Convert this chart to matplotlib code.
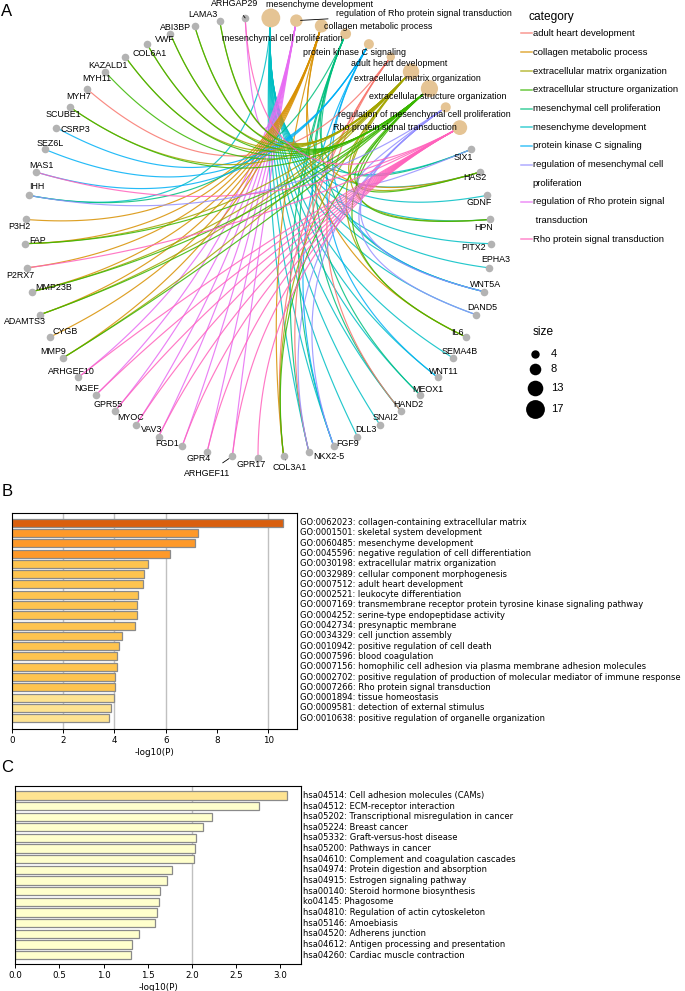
import numpy as np
import matplotlib

matplotlib.use("Agg")
import matplotlib.pyplot as plt
from matplotlib.lines import Line2D
from matplotlib.transforms import blended_transform_factory

W, H, DPI = 685, 991, 100
ARIAL = ["Liberation Sans", "DejaVu Sans"]

# ---------------- panel A: gene-concept network ----------------
CATEGORIES = [
    "mesenchyme development",
    "regulation of Rho protein signal transduction",
    "collagen metabolic process",
    "mesenchymal cell proliferation",
    "protein kinase C signaling",
    "adult heart development",
    "extracellular matrix organization",
    "extracellular structure organization",
    "regulation of mesenchymal cell proliferation",
    "Rho protein signal transduction",
]
GENES = [
    "SIX1", "HAS2", "GDNF", "HPN", "PITX2", "EPHA3", "WNT5A", "DAND5", "IL6",
    "SEMA4B", "WNT11", "MEOX1", "HAND2", "SNAI2", "DLL3", "FGF9", "NKX2-5",
    "COL3A1", "GPR17", "ARHGEF11", "GPR4", "FGD1", "VAV3", "MYOC", "GPR55",
    "NGEF", "ARHGEF10", "MMP9", "CYGB", "ADAMTS3", "MMP23B", "P2RX7", "FAP",
    "P3H2", "IHH", "MAS1", "SEZ6L", "CSRP3", "SCUBE1", "MYH7", "MYH11",
    "KAZALD1", "COL6A1", "VWF", "ABI3BP", "LAMA3", "ARHGAP29",
]

mesenchyme_development = ["SIX1", "HAS2", "GDNF", "HPN", "PITX2", "EPHA3", "WNT5A", "DAND5",
                          "SEMA4B", "WNT11", "MEOX1", "HAND2", "SNAI2", "DLL3", "FGF9",
                          "NKX2-5", "IHH"]
reg_rho_signal = ["ARHGAP29", "ARHGEF10", "NGEF", "GPR55", "MYOC", "VAV3", "FGD1", "GPR4",
                  "ARHGEF11"]
collagen_metabolic = ["P3H2", "FAP", "P2RX7", "MMP23B", "ADAMTS3", "CYGB", "MMP9", "COL3A1",
                      "IL6", "HAS2"]
mesenchymal_prolif = ["IHH", "SIX1", "HAND2", "NKX2-5", "FGF9", "WNT5A", "MEOX1"]
pkc_signaling = ["MAS1", "SEZ6L", "CSRP3", "WNT5A", "WNT11", "FGF9"]
adult_heart = ["MYH7", "COL3A1", "HAND2", "NKX2-5"]
ecm_organization = ["LAMA3", "ABI3BP", "VWF", "COL6A1", "KAZALD1", "SCUBE1", "FAP", "MMP23B",
                    "ADAMTS3", "MMP9", "COL3A1", "IL6", "HPN", "HAS2"]
ecs_organization = ecm_organization + ["MYH11"]
reg_mesenchymal_prolif = ["IHH", "SIX1", "FGF9", "WNT5A", "NKX2-5", "DAND5"]
rho_signal = ["ARHGAP29", "ARHGEF10", "NGEF", "GPR55", "MYOC", "VAV3", "FGD1", "GPR4",
              "ARHGEF11", "GPR17", "P2RX7", "MAS1"]

CATEGORY_GENES = {
    "mesenchyme development": mesenchyme_development,
    "regulation of Rho protein signal transduction": reg_rho_signal,
    "collagen metabolic process": collagen_metabolic,
    "mesenchymal cell proliferation": mesenchymal_prolif,
    "protein kinase C signaling": pkc_signaling,
    "adult heart development": adult_heart,
    "extracellular matrix organization": ecm_organization,
    "extracellular structure organization": ecs_organization,
    "regulation of mesenchymal cell proliferation": reg_mesenchymal_prolif,
    "Rho protein signal transduction": rho_signal,
}

LEGEND_ORDER = [
    "adult heart development", "collagen metabolic process",
    "extracellular matrix organization", "extracellular structure organization",
    "mesenchymal cell proliferation", "mesenchyme development",
    "protein kinase C signaling", "regulation of mesenchymal cell proliferation",
    "regulation of Rho protein signal transduction", "Rho protein signal transduction",
]
LEGEND_TEXT = [
    "adult heart development", "collagen metabolic process",
    "extracellular matrix organization", "extracellular structure organization",
    "mesenchymal cell proliferation", "mesenchyme development",
    "protein kinase C signaling", "regulation of mesenchymal cell\nproliferation",
    "regulation of Rho protein signal\n transduction", "Rho protein signal transduction",
]
HUE = ["#F8766D", "#D89000", "#A3A500", "#39B600", "#00BF7D",
       "#00BFC4", "#00B0F6", "#9590FF", "#E76BF3", "#FF62BC"]
SIZE_BREAKS = [4, 8, 13, 17]

# label nudges in pixels (dx right, dy down) relative to the node
NUDGE = {
    "mesenchyme development": (49, -13), "regulation of Rho protein signal transduction": (128, -7),
    "collagen metabolic process": (57, 1), "mesenchymal cell proliferation": (-63, 5),
    "protein kinase C signaling": (-14, 8), "adult heart development": (8, 7),
    "extracellular matrix organization": (6, 7), "extracellular structure organization": (8, 8),
    "regulation of mesenchymal cell proliferation": (-21, 7),
    "Rho protein signal transduction": (-65, 0),
    "ARHGAP29": (-11, -14), "LAMA3": (-17, -6), "ABI3BP": (-19, 2), "VWF": (-6, 6),
    "COL6A1": (3, 9), "KAZALD1": (-17, 9), "MYH11": (-8, 7), "MYH7": (-8, 8),
    "SCUBE1": (-7, 7), "CSRP3": (19, 2), "SEZ6L": (6, -6), "MAS1": (6, -6), "IHH": (7, -9),
    "P3H2": (-6, 7), "FAP": (12, -3), "P2RX7": (-7, 8), "MMP23B": (21, -4),
    "ADAMTS3": (-15, 7), "CYGB": (15, -5), "MMP9": (-10, -6), "ARHGEF10": (-7, -6),
    "NGEF": (-9, -7), "GPR55": (-7, -7), "MYOC": (-5, -8), "VAV3": (-7, -7),
    "FGD1": (-15, -2), "GPR4": (-8, 6), "ARHGEF11": (-25, 17), "GPR17": (-7, 7),
    "COL3A1": (6, 11), "NKX2-5": (20, 4), "FGF9": (14, -2), "DLL3": (8, -7),
    "SNAI2": (5, -8), "HAND2": (7, -7), "MEOX1": (7, -6), "WNT11": (6, -6),
    "SEMA4B": (7, -6), "IL6": (-9, -4), "DAND5": (6, -7), "WNT5A": (2, -7),
    "EPHA3": (7, -8), "PITX2": (-17, 4), "HPN": (-7, 8), "GDNF": (-8, 7),
    "HAS2": (-6, 6), "SIX1": (-8, 8),
}
CONNECTED = {"ARHGAP29", "ARHGEF11", "COL3A1", "regulation of Rho protein signal transduction"}

# ---------------- panel B: GO enrichment ----------------
GO_TERMS = [
    "GO:0062023: collagen-containing extracellular matrix",
    "GO:0001501: skeletal system development",
    "GO:0060485: mesenchyme development",
    "GO:0045596: negative regulation of cell differentiation",
    "GO:0030198: extracellular matrix organization",
    "GO:0032989: cellular component morphogenesis",
    "GO:0007512: adult heart development",
    "GO:0002521: leukocyte differentiation",
    "GO:0007169: transmembrane receptor protein tyrosine kinase signaling pathway",
    "GO:0004252: serine-type endopeptidase activity",
    "GO:0042734: presynaptic membrane",
    "GO:0034329: cell junction assembly",
    "GO:0010942: positive regulation of cell death",
    "GO:0007596: blood coagulation",
    "GO:0007156: homophilic cell adhesion via plasma membrane adhesion molecules",
    "GO:0002702: positive regulation of production of molecular mediator of immune response",
    "GO:0007266: Rho protein signal transduction",
    "GO:0001894: tissue homeostasis",
    "GO:0009581: detection of external stimulus",
    "GO:0010638: positive regulation of organelle organization",
]
GO_LOGP = [10.58, 7.25, 7.12, 6.16, 5.29, 5.16, 5.10, 4.90, 4.87, 4.87,
           4.82, 4.31, 4.17, 4.12, 4.09, 4.04, 4.04, 3.99, 3.88, 3.79]

# ---------------- panel C: KEGG enrichment ----------------
KEGG_TERMS = [
    "hsa04514: Cell adhesion molecules (CAMs)",
    "hsa04512: ECM-receptor interaction",
    "hsa05202: Transcriptional misregulation in cancer",
    "hsa05224: Breast cancer",
    "hsa05332: Graft-versus-host disease",
    "hsa05200: Pathways in cancer",
    "hsa04610: Complement and coagulation cascades",
    "hsa04974: Protein digestion and absorption",
    "hsa04915: Estrogen signaling pathway",
    "hsa00140: Steroid hormone biosynthesis",
    "ko04145: Phagosome",
    "hsa04810: Regulation of actin cytoskeleton",
    "hsa05146: Amoebiasis",
    "hsa04520: Adherens junction",
    "hsa04612: Antigen processing and presentation",
    "hsa04260: Cardiac muscle contraction",
]
KEGG_LOGP = [3.08, 2.76, 2.23, 2.13, 2.05, 2.04, 2.02, 1.77, 1.72, 1.64,
             1.63, 1.61, 1.58, 1.40, 1.32, 1.31]

BIN_EDGES = [3, 4, 6, 10]
BIN_COLORS = ["#FFFFCC", "#FEE391", "#FEC44F", "#FE9929", "#D95F0E"]


def px_axes(fig, left, top, right, bottom):
    return fig.add_axes([left / W, 1 - bottom / H, (right - left) / W, (bottom - top) / H])


def size_radius_px(n):
    return 2.6 + 0.4 * n


def network_panel(fig, overlay):
    cx, cy, rx, ry = 258.0, 237.6, 233.0, 220.0
    ax = px_axes(fig, cx - 1.1 * rx, cy - 1.08 * ry, cx + 1.1 * rx, cy + 1.08 * ry)
    ax.set_xlim(-1.1, 1.1)
    ax.set_ylim(-1.08, 1.08)
    ax.axis("off")

    nodes = CATEGORIES + GENES
    step = 2 * np.pi / len(nodes)
    ang = np.pi / 2 - step / 2 - step * np.arange(len(nodes))
    pos = {n: np.array([np.cos(a), np.sin(a)]) for n, a in zip(nodes, ang)}
    color_of = dict(zip(LEGEND_ORDER, HUE))

    t = np.linspace(0, 1, 80)[:, None]
    for cat in CATEGORIES:
        for g in CATEGORY_GENES[cat]:
            p0, p1 = pos[cat], pos[g]
            pts = (1 - t) ** 2 * p0 + t ** 2 * p1  # quadratic bezier, control at centre
            ax.plot(pts[:, 0], pts[:, 1], color=color_of[cat], lw=0.85, alpha=0.85,
                    solid_capstyle="butt", zorder=1)

    gx = [pos[g][0] for g in GENES]
    gy = [pos[g][1] for g in GENES]
    ax.scatter(gx, gy, s=30, color="#B3B3B3", linewidths=0, zorder=3)
    cnt = [len(CATEGORY_GENES[c]) for c in CATEGORIES]
    ax.scatter([pos[c][0] for c in CATEGORIES], [pos[c][1] for c in CATEGORIES],
               s=[(2 * size_radius_px(n) * 72 / DPI) ** 2 for n in cnt],
               color="#E5C494", linewidths=0, zorder=3)

    for n in nodes:
        dx, dy = NUDGE[n]
        kw = {}
        if n in CONNECTED:
            kw["arrowprops"] = dict(arrowstyle="-", lw=0.6, color="black",
                                    shrinkA=4, shrinkB=3)
        ax.annotate(n, xy=pos[n], xytext=(dx, -dy), textcoords="offset pixels",
                    ha="center", va="center", fontsize=6.4, family=ARIAL,
                    color="black", zorder=4, **kw)

    # category legend
    overlay.text(529, 17, "category", fontsize=8.6, family=ARIAL, va="center", ha="left")
    rows = [33.3, 52.3, 71, 90, 108.7, 127.3, 146, 164.7, 202, 239.3]
    for y, c, lab in zip(rows, LEGEND_ORDER, LEGEND_TEXT):
        overlay.add_line(Line2D([520.7, 531.7], [y, y], color=color_of[c], lw=1.1, alpha=0.75))
        for k, part in enumerate(lab.split("\n")):
            overlay.text(532.7, y + 18.7 * k, part, fontsize=6.8, family=ARIAL,
                         va="center", ha="left")

    # size legend
    overlay.text(533, 332, "size", fontsize=8.6, family=ARIAL, va="center", ha="left")
    for y, n in zip([354, 369.3, 388.3, 409.3], SIZE_BREAKS):
        overlay.scatter([535], [y], s=(2 * size_radius_px(n) * 72 / DPI) ** 2,
                        color="black", linewidths=0)
        overlay.text(550.7, y, str(n), fontsize=8, family=ARIAL, va="center", ha="left")


def bar_panel(fig, box, terms, values, xmax, xticks, ticklabels, ylim, text_x):
    ax = px_axes(fig, *box)
    colors = [BIN_COLORS[int(np.searchsorted(BIN_EDGES, v, side="right"))] for v in values]
    y = np.arange(len(terms))
    for g in [2, 4, 6, 10, 20]:
        if g < xmax:
            ax.axvline(g, color="#C0C0C0", lw=1.0, zorder=0)
    ax.barh(y, values, height=0.78, color=colors, edgecolor="#8A8A8A", linewidth=0.9, zorder=2)
    ax.set_xlim(0, xmax)
    ax.set_ylim(*ylim)
    ax.set_yticks([])
    ax.set_xticks(xticks)
    ax.set_xticklabels(ticklabels)
    ax.tick_params(axis="x", labelsize=6.3, length=3, width=0.7, pad=2)
    ax.set_xlabel("-log10(P)", fontsize=6.3, labelpad=2)
    for s in ax.spines.values():
        s.set_linewidth(0.8)
    tr = blended_transform_factory(ax.transAxes, ax.transData)
    for yi, term in zip(y, terms):
        ax.text(text_x, yi, term, transform=tr, va="center", ha="left", fontsize=6.0)
    return ax


def main():
    fig = plt.figure(figsize=(W / DPI, H / DPI), dpi=DPI)
    overlay = fig.add_axes([0, 0, 1, 1], zorder=5)
    overlay.set_xlim(0, W)
    overlay.set_ylim(H, 0)
    overlay.axis("off")
    overlay.patch.set_alpha(0)

    network_panel(fig, overlay)

    bar_panel(fig, (11.7, 512.7, 296.7, 729.3), GO_TERMS, GO_LOGP, 11.1,
              [0, 2, 4, 6, 8, 10], ["0", "2", "4", "6", "8", "10"], (20.08, -0.97), 1.012)
    bar_panel(fig, (15.3, 785.7, 301.0, 964.3), KEGG_TERMS, KEGG_LOGP, 3.235,
              [0, 0.5, 1, 1.5, 2, 2.5, 3], ["0.0", "0.5", "1.0", "1.5", "2.0", "2.5", "3.0"],
              (15.87, -0.91), 1.008)

    for letter, y in [("A", 12), ("B", 492), ("C", 768)]:
        overlay.text(7, y, letter, fontsize=12, family=ARIAL, ha="center", va="center")

    fig.savefig("out.png", dpi=DPI)
    plt.close(fig)


if __name__ == "__main__":
    main()
